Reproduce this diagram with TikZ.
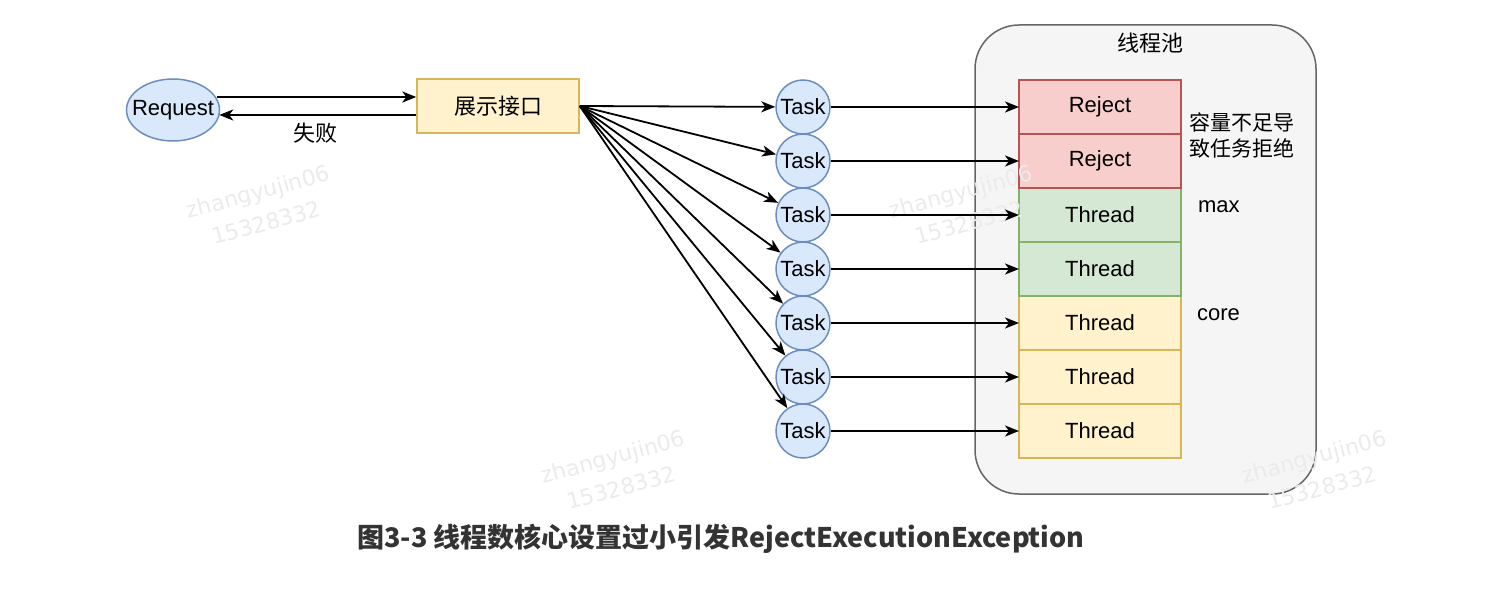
\documentclass[tikz,border=0pt]{standalone}
\usepackage{fontspec}
\setmainfont{Liberation Sans}
\newfontfamily\cjk{Noto Sans CJK SC}
\newfontfamily\wmfont{DejaVu Sans}
\usetikzlibrary{positioning,shapes.geometric,arrows.meta,calc}

\newlength{\du}
\setlength{\du}{0.5pt}

\definecolor{reqfill}{HTML}{DAE8FC}
\definecolor{reqline}{HTML}{6C8EBF}
\definecolor{apifill}{HTML}{FFF2CC}
\definecolor{apiline}{HTML}{D6B656}
\definecolor{rejfill}{HTML}{F8CECC}
\definecolor{rejline}{HTML}{B85450}
\definecolor{maxfill}{HTML}{D5E8D4}
\definecolor{maxline}{HTML}{82B366}
\definecolor{poolfill}{HTML}{F5F5F5}
\definecolor{poolline}{HTML}{666666}
\definecolor{captext}{HTML}{333333}
\definecolor{wmtext}{HTML}{EBEBEB}

\tikzset{
  reqshape/.style={ellipse, draw=reqline, fill=reqfill, line width=0.75pt,
    minimum width=93\du, minimum height=62\du, inner xsep=-4.5pt, inner ysep=0pt},
  apibox/.style={rectangle, draw=apiline, fill=apifill, line width=0.75pt,
    minimum width=162\du, minimum height=54\du, inner sep=0pt},
  taskshape/.style={circle, draw=reqline, fill=reqfill, line width=0.75pt,
    minimum size=54\du, inner sep=0pt},
  poolbox/.style={rectangle, draw=poolline, fill=poolfill, line width=0.75pt,
    rounded corners=22pt, minimum width=341\du, minimum height=469\du},
  cellbox/.style={rectangle, line width=0.75pt, outer sep=0pt, inner sep=0pt,
    minimum width=162\du, minimum height=54\du},
  rejcell/.style={cellbox, draw=rejline, fill=rejfill},
  maxcell/.style={cellbox, draw=maxline, fill=maxfill},
  corecell/.style={cellbox, draw=apiline, fill=apifill},
  flowarrow/.style={-{Stealth[length=7pt,width=5.5pt,inset=2pt]}, line width=0.9pt},
  watermark/.style={text=wmtext, font=\wmfont\fontsize{11}{16}\selectfont,
    align=center, rotate=15}
}

\begin{document}
\begin{tikzpicture}[x=\du, y=-\du, font=\fontsize{11}{13}\selectfont]
\useasboundingbox (0,0) rectangle (1502,610);

% watermarks
\node[watermark] (wm1) at (262,207) {zhangyujin06\\15328332};
\node[watermark] (wm3) at (617,472) {zhangyujin06\\15328332};

% thread pool
\node[poolbox] (pool) at (1145.5,259.5) {};
\node (pooltitle) at (1150,43) {\cjk 线程池};

\foreach \i/\sty/\lbl in {7/corecell/Thread,6/corecell/Thread,5/corecell/Thread,
    4/maxcell/Thread,3/maxcell/Thread,2/rejcell/Reject,1/rejcell/Reject}
  \node[\sty] (cell\i) at (1100,{53+54*\i}) {\lbl};

\node[anchor=west, align=left, font=\fontsize{10.5}{13}\selectfont] (rejnote) at (1182,135)
  {\cjk 容量不足导\\\cjk 致任务拒绝};
\node[anchor=west] (maxlbl) at (1191,207) {max};
\node[anchor=west] (corelbl) at (1190,315) {core};

\node[watermark] (wm2) at (965,207) {zhangyujin06\\15328332};
\node[watermark] (wm4) at (1318,472) {zhangyujin06\\15328332};

% request and api
\node[reqshape] (req) at (173,110) {Request};
\node[apibox] (api) at (498,106) {\cjk 展示接口};

\draw[flowarrow] ($(req.east)+(-3,-13)$) -- ($(api.west)+(0,-9)$);
\draw[flowarrow] ($(api.west)+(0,9)$) -- ($(req.east)+(-1,5)$);
\node (faillbl) at (315,133) {\cjk 失败};

% tasks
\foreach \i in {1,...,7}
  \node[taskshape] (task\i) at (803,{53+54*\i}) {Task};

\foreach \i in {1,...,7} {
  \draw[flowarrow] (api.east) -- (task\i);
  \draw[flowarrow] (task\i) -- (cell\i);
}

\node[text=captext] (caption) at (721,539)
  {\cjk\bfseries\fontsize{13.5}{16}\selectfont 图3-3 线程数核心设置过小引发RejectExecutionException};
\end{tikzpicture}
\end{document}
